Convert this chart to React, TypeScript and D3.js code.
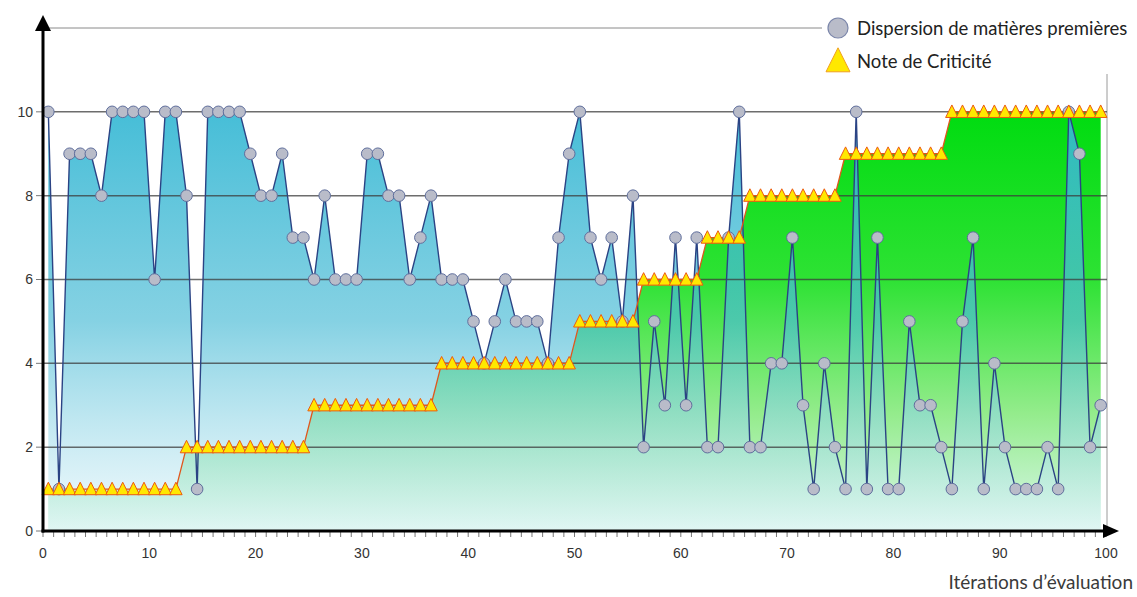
import React from 'react';
import * as d3 from 'd3';

// Dispersion de matières premières, per iteration (0..99)
const dispersion = [
  10, 1, 9, 9, 9, 8, 10, 10, 10, 10,
  6, 10, 10, 8, 1, 10, 10, 10, 10, 9,
  8, 8, 9, 7, 7, 6, 8, 6, 6, 6,
  9, 9, 8, 8, 6, 7, 8, 6, 6, 6,
  5, 4, 5, 6, 5, 5, 5, 4, 7, 9,
  10, 7, 6, 7, 5, 8, 2, 5, 3, 7,
  3, 7, 2, 2, 7, 10, 2, 2, 4, 4,
  7, 3, 1, 4, 2, 1, 10, 1, 7, 1,
  1, 5, 3, 3, 2, 1, 5, 7, 1, 4,
  2, 1, 1, 1, 2, 1, 10, 9, 2, 3,
];

// Note de Criticité, per iteration (0..99)
const criticite = [
  1, 1, 1, 1, 1, 1, 1, 1, 1, 1,
  1, 1, 1, 2, 2, 2, 2, 2, 2, 2,
  2, 2, 2, 2, 2, 3, 3, 3, 3, 3,
  3, 3, 3, 3, 3, 3, 3, 4, 4, 4,
  4, 4, 4, 4, 4, 4, 4, 4, 4, 4,
  5, 5, 5, 5, 5, 5, 6, 6, 6, 6,
  6, 6, 7, 7, 7, 7, 8, 8, 8, 8,
  8, 8, 8, 8, 8, 9, 9, 9, 9, 9,
  9, 9, 9, 9, 9, 10, 10, 10, 10, 10,
  10, 10, 10, 10, 10, 10, 10, 10, 10, 10,
];

const xTicks = [0, 10, 20, 30, 40, 50, 60, 70, 80, 90, 100];
const yTicks = [0, 2, 4, 6, 8, 10];
const seriesNames = ['Dispersion de matières premières', 'Note de Criticité'];
const xTitle = 'Itérations d’évaluation';

const W = 1137;
const H = 597;
const left = 43;
const right = 1106;
const bottom = 531;
const top = 28;

export default function App() {
  const x = d3.scaleLinear().domain([0, 100]).range([left, right]);
  const y = d3.scaleLinear().domain([0, 12]).range([bottom, top]);
  const px = (i: number) => x(i + 0.5);

  const areaGen = d3
    .area<number>()
    .x((_, i) => px(i))
    .y0(y(0))
    .y1((d) => y(d));
  const lineGen = d3
    .line<number>()
    .x((_, i) => px(i))
    .y((d) => y(d));

  const minor = d3.range(0, 101, 1);
  const tri = (cx: number, cy: number, s: number) =>
    `M${cx},${cy - s * 0.55} L${cx + s / 2},${cy + s * 0.45} L${cx - s / 2},${cy + s * 0.45} Z`;

  return (
    <svg width={W} height={H} style={{ position: 'absolute', left: 0, top: 0, background: '#fff' }}>
      <defs>
        <linearGradient id="gGreen" gradientUnits="userSpaceOnUse" x1="0" x2="0" y1={y(10)} y2={y(0)}>
          <stop offset="0" stopColor="#00dc10" />
          <stop offset="0.4" stopColor="#2ee234" />
          <stop offset="0.72" stopColor="#94ec8c" />
          <stop offset="1" stopColor="#dcf7ee" />
        </linearGradient>
        <linearGradient id="gBlue" gradientUnits="userSpaceOnUse" x1="0" x2="0" y1={y(10)} y2={y(0)}>
          <stop offset="0" stopColor="#36b8d4" stopOpacity="0.92" />
          <stop offset="0.5" stopColor="#4cbcd6" stopOpacity="0.68" />
          <stop offset="1" stopColor="#e4f5fa" stopOpacity="0.5" />
        </linearGradient>
      </defs>

      {/* frame lines */}
      <line x1={left} x2={right + 1} y1={y(12)} y2={y(12)} stroke="#8a8a8a" strokeWidth={1} />
      <line x1={right + 1} x2={right + 1} y1={y(12)} y2={bottom} stroke="#9a9a9a" strokeWidth={1} />

      {/* areas */}
      <path d={areaGen(criticite) || ''} fill="url(#gGreen)" />
      <path d={areaGen(dispersion) || ''} fill="url(#gBlue)" />

      {/* gridlines */}
      {yTicks
        .filter((t) => t > 0)
        .map((t) => (
          <line key={t} x1={left} x2={right + 1} y1={y(t)} y2={y(t)} stroke="#3c3c3c" strokeOpacity={0.75} strokeWidth={1.5} />
        ))}

      {/* lines */}
      <path d={lineGen(dispersion) || ''} fill="none" stroke="#2b4384" strokeWidth={1.4} />
      <path d={lineGen(criticite) || ''} fill="none" stroke="#e0561c" strokeWidth={1.3} />

      {/* markers */}
      {dispersion.map((d, i) => (
        <circle key={'c' + i} cx={px(i)} cy={y(d)} r={5.8} fill="#b9bcc9" stroke="#5f6e9c" strokeWidth={1} />
      ))}
      {criticite.map((d, i) => (
        <path key={'t' + i} d={tri(px(i), y(d), 12.5)} fill="#ffe800" stroke="#ec5a10" strokeWidth={1} />
      ))}

      {/* minor x ticks */}
      {minor.map((t) => (
        <line key={'m' + t} x1={x(t)} x2={x(t)} y1={bottom + 1} y2={bottom + 6} stroke="#777" strokeWidth={1} />
      ))}
      {/* y ticks */}
      {yTicks.map((t) => (
        <line key={'yt' + t} x1={left - 7} x2={left} y1={y(t)} y2={y(t)} stroke="#777" strokeWidth={1} />
      ))}

      {/* axes */}
      <line x1={left} x2={left} y1={bottom + 1.5} y2={24} stroke="#000" strokeWidth={3} />
      <path d={`M${left},15 L${left + 8},31 L${left - 8},31 Z`} fill="#000" />
      <line x1={left - 1.5} x2={1108} y1={bottom} y2={bottom} stroke="#000" strokeWidth={3} />
      <path d={`M1119,${bottom} L1103,${bottom - 7} L1103,${bottom + 7} Z`} fill="#000" />

      {/* tick labels */}
      {yTicks.map((t) => (
        <text key={'yl' + t} x={left - 10} y={y(t)} dy="0.35em" textAnchor="end" fontFamily="'Liberation Sans', Arial, sans-serif" fontSize={14} fill="#333">
          {t}
        </text>
      ))}
      {xTicks.map((t) => (
        <text key={'xl' + t} x={x(t)} y={558} textAnchor="middle" fontFamily="'Liberation Sans', Arial, sans-serif" fontSize={14} fill="#333">
          {t}
        </text>
      ))}

      <text x={1133} y={589} textAnchor="end" fontFamily="Lato, 'Open Sans', sans-serif" fontSize={19} fill="#3a3a3a">
        {xTitle}
      </text>

      {/* legend */}
      <rect x={822} y={0} width={W - 822} height={74} fill="#fff" />
      <circle cx={838} cy={28} r={10} fill="#b9bcc9" stroke="#7b86aa" strokeWidth={1.2} />
      <text x={857} y={35} fontFamily="Lato, 'Open Sans', sans-serif" fontSize={18.5} fill="#222">
        {seriesNames[0]}
      </text>
      <path d={tri(838, 61, 24)} fill="#ffe800" stroke="#f0a020" strokeWidth={1} />
      <text x={857} y={68} fontFamily="Lato, 'Open Sans', sans-serif" fontSize={18.5} fill="#222">
        {seriesNames[1]}
      </text>
    </svg>
  );
}
